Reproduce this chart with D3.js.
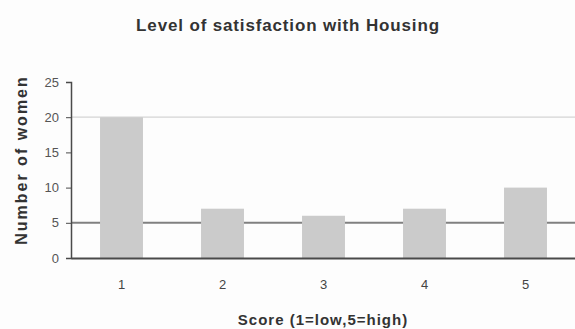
<!DOCTYPE html>
<html>
<head>
<meta charset="utf-8">
<script src="https://cdn.jsdelivr.net/npm/d3@7"></script>
<style>
  html, body { margin: 0; padding: 0; background: #fdfdfd; }
  svg { display: block; }
</style>
</head>
<body>
<svg id="chart" width="575" height="329"></svg>
<script>
// Survey results: number of women giving each housing satisfaction score
const scores = ["1", "2", "3", "4", "5"];
const counts = [20, 7, 6, 7, 10];
const yTicks = [0, 5, 10, 15, 20, 25];
const gridValues = [5, 20];

const svg = d3.select("#chart");
const W = 575, H = 329;
const m = { left: 71, right: -1, top: 82, bottom: 71 };

const x = d3.scaleBand()
  .domain(scores)
  .range([m.left, W - m.right])
  .paddingInner(0.575)
  .paddingOuter(0.2875);

const y = d3.scaleLinear()
  .domain([0, 25])
  .range([H - m.bottom, m.top]);

const font = "'Liberation Sans', Arial, sans-serif";

// gridlines
svg.append("g").selectAll("line")
  .data(gridValues)
  .join("line")
  .attr("x1", m.left).attr("x2", W)
  .attr("y1", d => y(d)).attr("y2", d => y(d))
  .attr("stroke", d => d === 5 ? "#808080" : "#d4d4d4")
  .attr("stroke-width", d => d === 5 ? 2 : 1.2);

// bars
svg.append("g").selectAll("rect")
  .data(counts)
  .join("rect")
  .attr("x", (d, i) => x(scores[i]))
  .attr("width", x.bandwidth())
  .attr("y", d => y(d))
  .attr("height", d => y(0) - y(d))
  .attr("fill", "#cbcbcb");

// y axis
const yAxis = svg.append("g")
  .attr("transform", `translate(${m.left},0)`)
  .call(d3.axisLeft(y).tickValues(yTicks).tickSize(5).tickPadding(7));
yAxis.select(".domain").attr("stroke", "#4a4a4a").attr("stroke-width", 1.5);
yAxis.selectAll(".tick line").attr("stroke", "#4a4a4a");
yAxis.selectAll("text")
  .attr("font-family", font).attr("font-size", 13).attr("fill", "#555");

// x axis
const xAxis = svg.append("g")
  .attr("transform", `translate(0,${y(0)})`)
  .call(d3.axisBottom(x).tickSize(0).tickPadding(22));
xAxis.select(".domain").attr("stroke", "#4a4a4a").attr("stroke-width", 2);
xAxis.selectAll("text")
  .attr("font-family", font).attr("font-size", 13).attr("fill", "#444");

// titles
svg.append("text")
  .attr("x", 288).attr("y", 31)
  .attr("text-anchor", "middle")
  .attr("font-family", font).attr("font-weight", "bold")
  .attr("font-size", 17).attr("letter-spacing", 0.85).attr("fill", "#333")
  .text("Level of satisfaction with Housing");

svg.append("text")
  .attr("x", 323).attr("y", 325)
  .attr("text-anchor", "middle")
  .attr("font-family", font).attr("font-weight", "bold")
  .attr("font-size", 15).attr("letter-spacing", 1).attr("fill", "#333")
  .text("Score (1=low,5=high)");

svg.append("text")
  .attr("transform", "translate(27,160) rotate(-90)")
  .attr("text-anchor", "middle")
  .attr("font-family", font).attr("font-weight", "bold")
  .attr("font-size", 16).attr("letter-spacing", 2).attr("fill", "#333")
  .text("Number of women");
</script>
</body>
</html>
